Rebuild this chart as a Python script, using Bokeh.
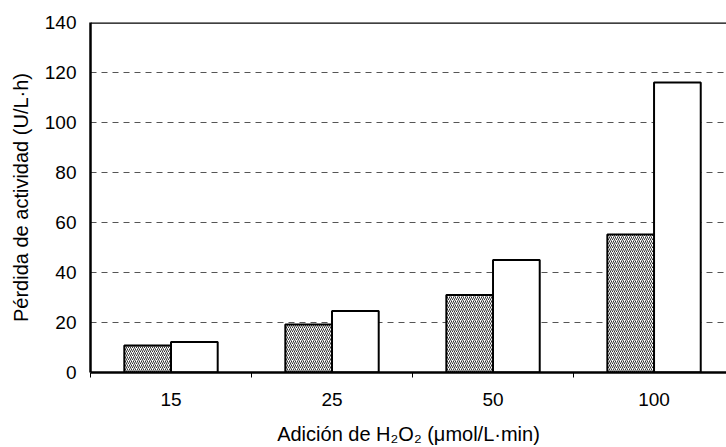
from bokeh.plotting import figure
from bokeh.models import FixedTicker, Range1d, Span
from bokeh.embed import file_html
from bokeh.resources import INLINE

categories = ["15", "25", "50", "100"]
hatched_values = [10.8, 19.2, 31.0, 55.2]
white_values = [12.2, 24.6, 45.0, 116.0]
y_ticks = [0, 20, 40, 60, 80, 100, 120, 140]

FONT = "Liberation Sans"

p = figure(width=726, height=447, output_backend="svg", toolbar_location=None,
           x_range=Range1d(0, 3.95), y_range=Range1d(0, 140),
           min_border_left=90, min_border_right=0, min_border_top=22, min_border_bottom=75)
p.outline_line_color = None
p.background_fill_color = "white"
p.border_fill_color = "white"

centers = [i + 0.5 for i in range(len(categories))]
bw = 0.29
p.vbar(x=[c - bw / 2 for c in centers], top=hatched_values, width=bw, bottom=0,
       fill_color="white", line_color="black", line_width=2,
       hatch_pattern="/", hatch_scale=4, hatch_weight=1, hatch_color="#333333")
p.vbar(x=[c + bw / 2 for c in centers], top=white_values, width=bw, bottom=0,
       fill_color="white", line_color="black", line_width=2)

p.add_layout(Span(location=140, dimension="width", line_color="black", line_width=2.5))

# x axis
p.xaxis.ticker = FixedTicker(ticks=centers, minor_ticks=[0, 1, 2, 3, 4])
p.xaxis.major_label_overrides = {c: lab for c, lab in zip(centers, categories)}
p.xaxis.major_tick_out = 0
p.xaxis.major_tick_in = 0
p.xaxis.minor_tick_out = 5
p.xaxis.minor_tick_in = 0
p.xaxis.minor_tick_line_color = "black"
p.xaxis.minor_tick_line_width = 1
p.xaxis.axis_line_width = 2.5
p.xaxis.axis_line_color = "black"
p.xaxis.major_label_text_font = FONT
p.xaxis.major_label_text_font_size = "19px"
p.xaxis.major_label_text_color = "black"
p.xaxis.major_label_standoff = 15
p.xaxis.axis_label = "Adición de H₂O₂ (μmol/L·min)"
p.xaxis.axis_label_text_font = FONT
p.xaxis.axis_label_text_font_size = "20px"
p.xaxis.axis_label_text_font_style = "normal"
p.xaxis.axis_label_text_color = "black"
p.xaxis.axis_label_standoff = 14

# y axis
p.yaxis.ticker = FixedTicker(ticks=y_ticks, minor_ticks=[])
p.yaxis.major_tick_out = 0
p.yaxis.major_tick_in = 0
p.yaxis.axis_line_width = 2.5
p.yaxis.axis_line_color = "black"
p.yaxis.major_label_text_font = FONT
p.yaxis.major_label_text_font_size = "19px"
p.yaxis.major_label_text_color = "black"
p.yaxis.major_label_standoff = 14
p.yaxis.axis_label = "Pérdida de actividad (U/L·h)"
p.yaxis.axis_label_text_font = FONT
p.yaxis.axis_label_text_font_size = "20px"
p.yaxis.axis_label_text_font_style = "normal"
p.yaxis.axis_label_text_color = "black"
p.yaxis.axis_label_standoff = 10

# grid
p.xgrid.visible = False
p.ygrid.ticker = FixedTicker(ticks=[20, 40, 60, 80, 100, 120])
p.ygrid.grid_line_color = "#555555"
p.ygrid.grid_line_dash = "6 5"
p.ygrid.grid_line_width = 1

open("out.html", "w").write(file_html(p, INLINE))
